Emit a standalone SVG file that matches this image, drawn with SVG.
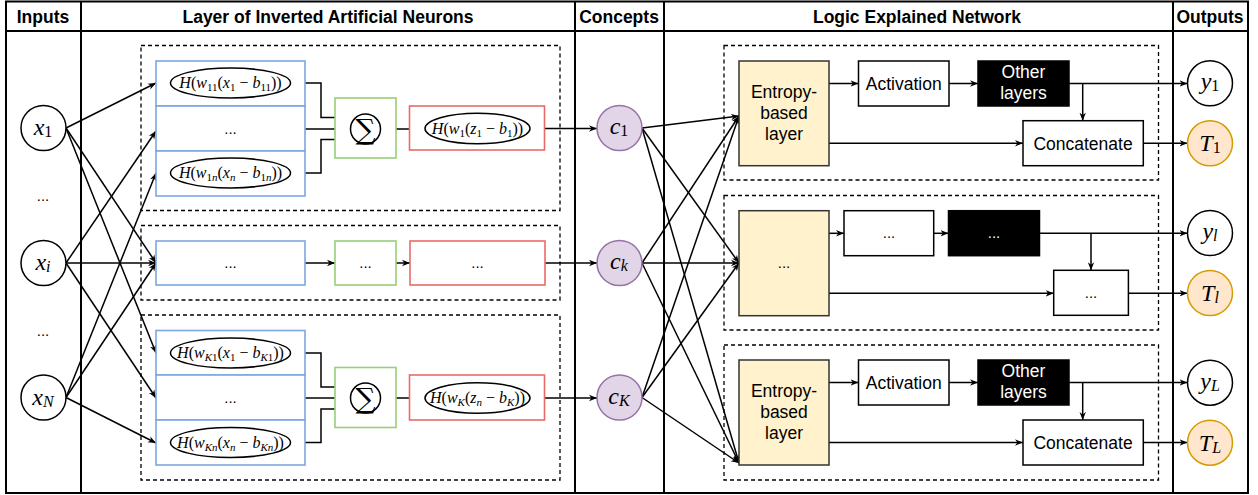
<svg xmlns="http://www.w3.org/2000/svg" width="1258" height="495" viewBox="0 0 1258 495">
<defs>
<marker id="arr" viewBox="0 0 10 10" refX="10" refY="5" markerWidth="8" markerHeight="8" markerUnits="userSpaceOnUse" orient="auto"><path d="M0,1 L10,5 L0,9 L3,5 z" fill="#000"/></marker>
</defs>
<style>
.frame{fill:none;stroke:#000;stroke-width:2}
.hdr{font-family:"Liberation Sans",Arial,sans-serif;font-weight:bold;font-size:17.5px;text-anchor:middle}
.dash{fill:none;stroke:#000;stroke-width:1.3;stroke-dasharray:4 3}
.blue{fill:#fff;stroke:#7ea6e0;stroke-width:1.6}
.green{fill:#fff;stroke:#97d077;stroke-width:1.6}
.red{fill:#fff;stroke:#ea6b66;stroke-width:1.6}
.ell{fill:#fff;stroke:#000;stroke-width:1.5}
.node{fill:#fff;stroke:#000;stroke-width:1.5}
.con{fill:#e1d5e7;stroke:#9673a6;stroke-width:1.5}
.tout{fill:#ffe6cc;stroke:#d79b00;stroke-width:1.5}
.ent{fill:#fff2cc;stroke:#333;stroke-width:1.5}
.blk{fill:#000;stroke:#000;stroke-width:1.5}
.m{font-family:"Liberation Serif","DejaVu Serif",serif;text-anchor:middle;font-size:16px}
.i{font-style:italic}
.s{font-size:11px}
.big{font-size:24px}
.bs{font-size:16px}
.sig{font-family:"DejaVu Serif",serif;font-size:28px;text-anchor:middle}
.lbl{font-family:"Liberation Sans",Arial,sans-serif;font-size:17.5px;text-anchor:middle}
.dots{font-family:"Liberation Sans",Arial,sans-serif;font-size:15px;text-anchor:middle}
.conn{fill:none;stroke:#000;stroke-width:1.5;marker-end:url(#arr)}
</style>

<g id="frame">
<rect class="frame" x="6" y="1.5" width="1242" height="491.5"/>
<line class="frame" x1="6" y1="31" x2="1248" y2="31"/>
<line class="frame" x1="81" y1="1.5" x2="81" y2="493"/>
<line class="frame" x1="575" y1="1.5" x2="575" y2="493"/>
<line class="frame" x1="664" y1="1.5" x2="664" y2="493"/>
<line class="frame" x1="1173" y1="1.5" x2="1173" y2="493"/>
<text class="hdr" x="43" y="23">Inputs</text>
<text class="hdr" x="328" y="23">Layer of Inverted Artificial Neurons</text>
<text class="hdr" x="619" y="23">Concepts</text>
<text class="hdr" x="917" y="23">Logic Explained Network</text>
<text class="hdr" x="1210" y="23">Outputs</text>
</g>

<g id="groups">
<rect class="dash" x="141" y="45.5" width="419" height="165"/>
<rect class="dash" x="141" y="225.5" width="419" height="74.5"/>
<rect class="dash" x="141" y="315" width="419" height="165"/>
<rect class="dash" x="724" y="45.5" width="434.5" height="134.5"/>
<rect class="dash" x="724" y="195.5" width="434.5" height="134.5"/>
<rect class="dash" x="724" y="345" width="434.5" height="135"/>
</g>

<g id="connectors">
<path class="conn" d="M66,128 L156,83"/>
<path class="conn" d="M66,128 L156,263"/>
<path class="conn" d="M66,128 L156,353"/>
<path class="conn" d="M66,263 L156,131"/>
<path class="conn" d="M66,263 L156,263"/>
<path class="conn" d="M66,263 L156,398"/>
<path class="conn" d="M66,397.5 L156,173"/>
<path class="conn" d="M66,397.5 L156,263"/>
<path class="conn" d="M66,397.5 L156,443"/>
<path class="conn" d="M156,83 H170.5"/>
<path class="conn" d="M156,173 H170.5"/>
<path class="conn" d="M156,353 H170.5"/>
<path class="conn" d="M156,442.5 H170.5"/>
<path class="conn" d="M290.5,83 H321 V117.5 H355.5"/>
<path class="conn" d="M305,129 H350.5"/>
<path class="conn" d="M290.5,173 H321 V139.5 H354"/>
<path class="conn" d="M380.5,129 H425"/>
<path class="conn" d="M530,128.5 H597"/>
<path class="conn" d="M305,263 H335"/>
<path class="conn" d="M396,263 H410"/>
<path class="conn" d="M545,263 H597"/>
<path class="conn" d="M290.5,353 H321 V387 H355.5"/>
<path class="conn" d="M305,398 H350.5"/>
<path class="conn" d="M290.5,442.5 H321 V409 H354"/>
<path class="conn" d="M380.5,398 H425"/>
<path class="conn" d="M545,398 H597"/>
<path class="conn" d="M642,128 L739,116"/>
<path class="conn" d="M642,128 L739,263"/>
<path class="conn" d="M642,128 L739,463"/>
<path class="conn" d="M642,263 L739,116"/>
<path class="conn" d="M642,263 L739,263"/>
<path class="conn" d="M642,263 L739,463"/>
<path class="conn" d="M642,397.5 L739,116"/>
<path class="conn" d="M642,397.5 L739,263"/>
<path class="conn" d="M642,397.5 L739,463"/>
<path class="conn" d="M829,83.5 H858.5"/>
<path class="conn" d="M949,83.5 H978"/>
<path class="conn" d="M1069,83.5 H1187.5"/>
<path class="conn" d="M1082.7,83.5 V120.7"/>
<path class="conn" d="M829,143.3 H1023"/>
<path class="conn" d="M1143.3,143.3 H1187.5"/>
<path class="conn" d="M829,233.3 H844"/>
<path class="conn" d="M933.7,233.3 H948.5"/>
<path class="conn" d="M1039.5,233.3 H1187.5"/>
<path class="conn" d="M1091,233.3 V270.3"/>
<path class="conn" d="M829,293.3 H1053.7"/>
<path class="conn" d="M1128.4,293.3 H1187.5"/>
<path class="conn" d="M829,382.5 H858.5"/>
<path class="conn" d="M949,382.5 H978"/>
<path class="conn" d="M1069,382.5 H1187.5"/>
<path class="conn" d="M1082.7,382.5 V420"/>
<path class="conn" d="M829,442.5 H1023"/>
<path class="conn" d="M1143.3,442.5 H1187.5"/>
</g>

<g id="x1"><circle class="node" cx="43.5" cy="128" r="22.5"/><text class="m big" x="43" y="135"><tspan class="i">x</tspan><tspan class="bs" dy="2">1</tspan></text></g>
<g id="xdots1"><text class="dots" x="43" y="201">...</text></g>
<g id="xi"><circle class="node" cx="43.5" cy="263" r="22.5"/><text class="m big" x="43" y="270"><tspan class="i">x</tspan><tspan class="bs i" dy="2">i</tspan></text></g>
<g id="xdots2"><text class="dots" x="43" y="336">...</text></g>
<g id="xN"><circle class="node" cx="43.5" cy="397.5" r="22.5"/><text class="m big" x="43" y="404.5"><tspan class="i">x</tspan><tspan class="bs i" dy="2">N</tspan></text></g>

<g id="neuron1">
<rect class="blue" x="156" y="61" width="149" height="45"/>
<rect class="blue" x="156" y="106" width="149" height="45"/>
<rect class="blue" x="156" y="151" width="149" height="45"/>
<ellipse class="ell" cx="230.5" cy="83" rx="60" ry="15"/>
<text class="m" x="230.5" y="88"><tspan class="i">H</tspan>(<tspan class="i">w</tspan><tspan class="s" dy="3">11</tspan><tspan dy="-3">(</tspan><tspan class="i">x</tspan><tspan class="s" dy="3">1</tspan><tspan dy="-3"> − </tspan><tspan class="i">b</tspan><tspan class="s" dy="3">11</tspan><tspan dy="-3">))</tspan></text>
<text class="dots" x="230.5" y="134">...</text>
<ellipse class="ell" cx="230.5" cy="173" rx="60" ry="15"/>
<text class="m" x="230.5" y="178"><tspan class="i">H</tspan>(<tspan class="i">w</tspan><tspan class="s" dy="3">1<tspan class="i">n</tspan></tspan><tspan dy="-3">(</tspan><tspan class="i">x</tspan><tspan class="s i" dy="3">n</tspan><tspan dy="-3"> − </tspan><tspan class="i">b</tspan><tspan class="s" dy="3">1<tspan class="i">n</tspan></tspan><tspan dy="-3">))</tspan></text>
<rect class="green" x="335" y="98" width="61" height="60"/>
<circle class="node" cx="365.5" cy="129" r="15"/>
<text class="sig" x="365.5" y="139">∑</text>
<rect class="red" x="409.5" y="106" width="135" height="44"/>
<ellipse class="ell" cx="477.5" cy="128.5" rx="52.5" ry="15.3"/>
<text class="m" x="477.5" y="133.5"><tspan class="i">H</tspan>(<tspan class="i">w</tspan><tspan class="s" dy="3">1</tspan><tspan dy="-3">(</tspan><tspan class="i">z</tspan><tspan class="s" dy="3">1</tspan><tspan dy="-3"> − </tspan><tspan class="i">b</tspan><tspan class="s" dy="3">1</tspan><tspan dy="-3">))</tspan></text>
</g>

<g id="neuronk">
<rect class="blue" x="156" y="241" width="149" height="44"/>
<text class="dots" x="230.5" y="268">...</text>
<rect class="green" x="335" y="241" width="61" height="44"/>
<text class="dots" x="365.5" y="268">...</text>
<rect class="red" x="410" y="241" width="135" height="44"/>
<text class="dots" x="477.5" y="268">...</text>
</g>

<g id="neuronK">
<rect class="blue" x="156" y="330.5" width="149" height="44.5"/>
<rect class="blue" x="156" y="375" width="149" height="45"/>
<rect class="blue" x="156" y="420" width="149" height="45"/>
<ellipse class="ell" cx="230.5" cy="353" rx="60" ry="15"/>
<text class="m" x="230.5" y="358"><tspan class="i">H</tspan>(<tspan class="i">w</tspan><tspan class="s" dy="3"><tspan class="i">K</tspan>1</tspan><tspan dy="-3">(</tspan><tspan class="i">x</tspan><tspan class="s" dy="3">1</tspan><tspan dy="-3"> − </tspan><tspan class="i">b</tspan><tspan class="s" dy="3"><tspan class="i">K</tspan>1</tspan><tspan dy="-3">))</tspan></text>
<text class="dots" x="230.5" y="403">...</text>
<ellipse class="ell" cx="230.5" cy="442.5" rx="60" ry="15"/>
<text class="m" x="230.5" y="447.5"><tspan class="i">H</tspan>(<tspan class="i">w</tspan><tspan class="s i" dy="3">Kn</tspan><tspan dy="-3">(</tspan><tspan class="i">x</tspan><tspan class="s i" dy="3">n</tspan><tspan dy="-3"> − </tspan><tspan class="i">b</tspan><tspan class="s i" dy="3">Kn</tspan><tspan dy="-3">))</tspan></text>
<rect class="green" x="335" y="367.5" width="61" height="60"/>
<circle class="node" cx="365.5" cy="398" r="15"/>
<text class="sig" x="365.5" y="408">∑</text>
<rect class="red" x="409.5" y="375" width="135" height="45"/>
<ellipse class="ell" cx="477.5" cy="398" rx="52.5" ry="15.3"/>
<text class="m" x="477.5" y="403"><tspan class="i">H</tspan>(<tspan class="i">w</tspan><tspan class="s i" dy="3">K</tspan><tspan dy="-3">(</tspan><tspan class="i">z</tspan><tspan class="s i" dy="3">n</tspan><tspan dy="-3"> − </tspan><tspan class="i">b</tspan><tspan class="s i" dy="3">K</tspan><tspan dy="-3">))</tspan></text>
</g>

<g id="c1"><circle class="con" cx="619.5" cy="128" r="22.5"/><text class="m big" x="619" y="134"><tspan class="i">c</tspan><tspan class="bs" dy="2">1</tspan></text></g>
<g id="ck"><circle class="con" cx="619.5" cy="263" r="22.5"/><text class="m big" x="619" y="269"><tspan class="i">c</tspan><tspan class="bs i" dy="2">k</tspan></text></g>
<g id="cK"><circle class="con" cx="619.5" cy="397.5" r="22.5"/><text class="m big" x="619" y="403.5"><tspan class="i">c</tspan><tspan class="bs i" dy="2">K</tspan></text></g>

<g id="len1">
<rect class="ent" x="739" y="61" width="90" height="104.7"/>
<text class="lbl" x="784" y="98">Entropy-</text>
<text class="lbl" x="784" y="119">based</text>
<text class="lbl" x="784" y="140">layer</text>
<rect class="node" x="858.5" y="61" width="90.5" height="45"/>
<text class="lbl" x="903.7" y="90">Activation</text>
<rect class="blk" x="978" y="61" width="91" height="45"/>
<text class="lbl" x="1023.5" y="78" fill="#fff">Other</text>
<text class="lbl" x="1023.5" y="99" fill="#fff">layers</text>
<rect class="node" x="1023" y="120.7" width="120.3" height="45"/>
<text class="lbl" x="1083" y="149.5">Concatenate</text>
</g>

<g id="len2">
<rect class="ent" x="739" y="210.7" width="90" height="105"/>
<text class="dots" x="784" y="268">...</text>
<rect class="node" x="844" y="210.7" width="89.7" height="45"/>
<text class="dots" x="889" y="238">...</text>
<rect class="blk" x="948.5" y="210.7" width="91" height="45"/>
<text class="dots" x="994" y="238" fill="#fff">...</text>
<rect class="node" x="1053.7" y="270.3" width="74.7" height="45"/>
<text class="dots" x="1091" y="298">...</text>
</g>

<g id="len3">
<rect class="ent" x="739" y="360" width="90" height="105"/>
<text class="lbl" x="784" y="397">Entropy-</text>
<text class="lbl" x="784" y="418">based</text>
<text class="lbl" x="784" y="439">layer</text>
<rect class="node" x="858.5" y="360" width="90.5" height="45"/>
<text class="lbl" x="903.7" y="389">Activation</text>
<rect class="blk" x="978" y="360" width="91" height="45"/>
<text class="lbl" x="1023.5" y="377" fill="#fff">Other</text>
<text class="lbl" x="1023.5" y="398" fill="#fff">layers</text>
<rect class="node" x="1023" y="420" width="120.3" height="45"/>
<text class="lbl" x="1083" y="449">Concatenate</text>
</g>

<g id="y1"><circle class="node" cx="1210" cy="83.3" r="22.5"/><text class="m big" x="1210" y="89"><tspan class="i">y</tspan><tspan class="bs" dy="2">1</tspan></text></g>
<g id="T1"><circle class="tout" cx="1210" cy="143.3" r="22.5"/><text class="m big" x="1210" y="151"><tspan class="i">T</tspan><tspan class="bs" dy="2">1</tspan></text></g>
<g id="yl"><circle class="node" cx="1210" cy="233" r="22.5"/><text class="m big" x="1210" y="239"><tspan class="i">y</tspan><tspan class="bs i" dy="2">l</tspan></text></g>
<g id="Tl"><circle class="tout" cx="1210" cy="293" r="22.5"/><text class="m big" x="1210" y="301"><tspan class="i">T</tspan><tspan class="bs i" dy="2">l</tspan></text></g>
<g id="yL"><circle class="node" cx="1210" cy="382.7" r="22.5"/><text class="m big" x="1210" y="388.5"><tspan class="i">y</tspan><tspan class="bs i" dy="2">L</tspan></text></g>
<g id="TL"><circle class="tout" cx="1210" cy="442.7" r="22.5"/><text class="m big" x="1210" y="450.5"><tspan class="i">T</tspan><tspan class="bs i" dy="2">L</tspan></text></g>
</svg>
